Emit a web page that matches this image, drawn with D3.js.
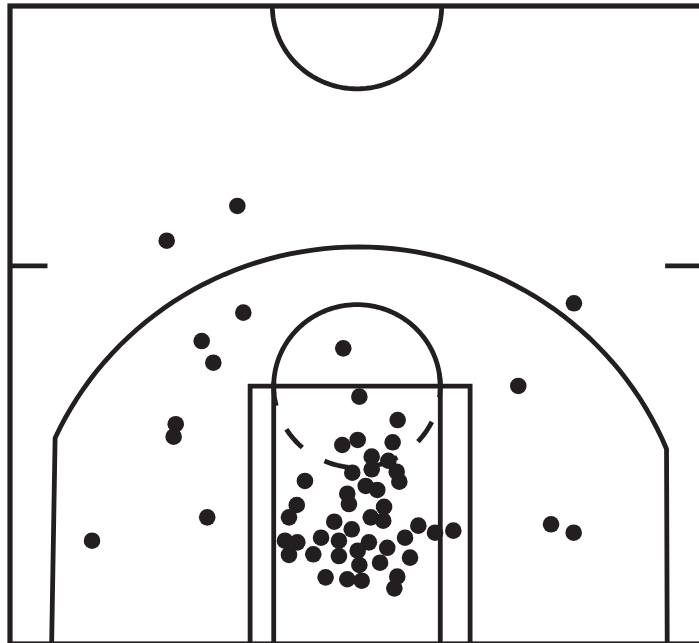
<!DOCTYPE html>
<html>
<head>
<meta charset="utf-8">
<script src="https://cdn.jsdelivr.net/npm/d3@7"></script>
<style>
    html, body { margin: 0; padding: 0; background: #fff; }
    svg { display: block; }
</style>
</head>
<body>
<svg id="chart"></svg>
<script>
"use strict";

// shot locations, NBA style: tenths of feet, basket at (0, 0)
var shotX = [
    -86.2, -137.1, -81.9, -111.9, -103.5, -9.9, 156.3, 116.2, -130.6, -132.1,
    -107.9, -190.9, 139.8, 156.1,
    1.7, 29.3, 0.5, -10.6, 25.7, 10.6, 22.6, 10.6, -3.4, 28.6,
    30.5, -37.5, 6.3, 14.6, -7.0, -5.8, -43.4, 19.5, -49.0, 9.9,
    18.9, -16.4, -3.8, 44.2, 56.2, 69.4, 34.6, -51.9, -43.0, -25.9,
    -13.0, 8.6, 0.5, 21.8, -49.0, -31.5, -13.0, 1.7, 16.6, 38.2,
    -22.6, -7.0, 3.4, 29.0, 26.9
];
var shotY = [
    270.2, 244.6, 191.6, 170.7, 154.7, 165.3, 198.5, 137.6, 109.4, 100.2,
    40.8, 23.6, 35.7, 29.5,
    129.7, 112.5, 97.8, 94.1, 96.1, 85.5, 82.5, 76.2, 73.7, 74.4,
    67.1, 67.6, 63.9, 61.0, 58.2, 50.6, 49.9, 48.6, 40.8, 40.8,
    38.3, 37.6, 32.0, 34.7, 29.5, 31.0, 25.8, 23.6, 22.4, 25.8,
    23.6, 22.4, 16.2, 18.4, 13.1, 13.6, 12.3, 5.7, 7.4, 11.1,
    -3.4, -4.8, -5.9, -2.9, -11.5
];

// court geometry in feet (x from centre of court, y from baseline)
var courtX = [-25, 25];
var courtY = [0, 47];
var basketY = 5.25;
var laneOuter = [-7.7, 8.15];
var laneInner = [-6, 6];
var freeThrowY = 19;
var circleR = 6.1;
var threeR = 24;
var threeCx = 0.1;
var cornerBottom = [-22.0, 22.35];
var cornerTop = [-21.75, 22.3];
var hashY = 27.85;
var hashLeft = [-25, -22.3];
var hashRight = [22.2, 25];
var dashStarts = [-9, 26, 61, 96, 131, 166];
var dashLen = 17;

var width = 699;
var height = 643;
var ink = "#231f20";

var svg = d3.select("#chart")
    .attr("width", width)
    .attr("height", height);

var x = d3.scaleLinear().domain(courtX).range([10, 704]);
var y = d3.scaleLinear().domain(courtY).range([644, 6]);

var line = d3.line()
    .x(d => x(d[0]))
    .y(d => y(d[1]));

// points of a circle (in feet) between two screen angles, degrees
function arcPoints(cx, cy, r, a0, a1) {
    var pts = [];
    var n = Math.max(8, Math.ceil(Math.abs(a1 - a0) / 2));
    for (var i = 0; i <= n; i++) {
        var a = (a0 + (a1 - a0) * i / n) * Math.PI / 180;
        pts.push([cx + r * Math.cos(a), cy - r * Math.sin(a)]);
    }
    return pts;
}

var court = svg.append("g")
    .attr("fill", "none")
    .attr("stroke", ink)
    .attr("stroke-width", 4.8);

// boundary
court.append("rect")
    .attr("x", x(courtX[0]))
    .attr("y", y(courtY[1]))
    .attr("width", x(courtX[1]) - x(courtX[0]))
    .attr("height", y(courtY[0]) - y(courtY[1]))
    .attr("stroke-width", 5.2);

// centre circle
court.append("path")
    .attr("d", line(arcPoints(0, courtY[1], circleR, 0, 180)));

// hash marks
court.append("path").attr("d", line([[hashLeft[0], hashY], [hashLeft[1], hashY]]));
court.append("path").attr("d", line([[hashRight[0], hashY], [hashRight[1], hashY]]));

// three point line
var aL = Math.acos((cornerTop[0] - threeCx) / threeR) * 180 / Math.PI;
var aR = Math.acos((cornerTop[1] - threeCx) / threeR) * 180 / Math.PI;
var threePts = [[cornerBottom[0], 0]]
    .concat(arcPoints(threeCx, basketY, threeR, 360 - aL, 360 - aR))
    .concat([[cornerBottom[1], 0]]);
court.append("path").attr("d", line(threePts));

// paint
court.append("path")
    .attr("d", line([[laneOuter[0], 0], [laneOuter[0], freeThrowY], [laneOuter[1], freeThrowY], [laneOuter[1], 0]]));
court.append("path").attr("d", line([[laneInner[0], 0], [laneInner[0], freeThrowY]]));
court.append("path").attr("d", line([[laneInner[1], 0], [laneInner[1], freeThrowY]]));

// free throw circle, solid top, dashed bottom
court.append("path")
    .attr("d", line(arcPoints(0, freeThrowY, 6, 180, 360)));
dashStarts.forEach(function(s) {
    court.append("path")
        .attr("d", line(arcPoints(0, freeThrowY, 6, s, s + dashLen)));
});

// shots
var shots = shotX.map((v, i) => ({ x: v / 10, y: shotY[i] / 10 + basketY }));

svg.append("g")
    .selectAll("circle")
    .data(shots)
    .enter()
    .append("circle")
    .attr("cx", d => x(d.x))
    .attr("cy", d => y(d.y))
    .attr("r", 8.3)
    .style("fill", ink);
</script>
</body>
</html>
